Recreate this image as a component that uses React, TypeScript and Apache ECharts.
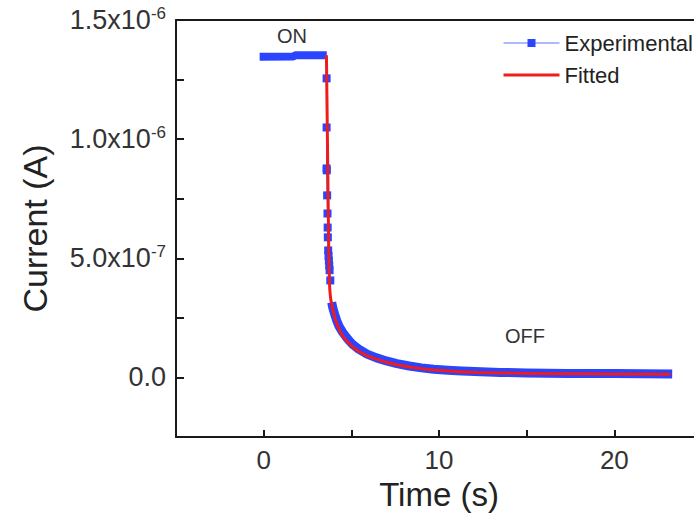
import React, { useEffect, useRef } from "react";
import * as echarts from "echarts";

// ON state (plateau) of the experimental trace
const onTime = [-0.23, 1.7, 1.8, 3.6];
const onCurrent = [1.346e-6, 1.347e-6, 1.352e-6, 1.352e-6];

// Discrete samples during the fast fall
const dropTime = [3.59, 3.59, 3.59, 3.6, 3.62, 3.64, 3.65, 3.66, 3.68, 3.7, 3.72, 3.74, 3.76, 3.8];
const dropCurrent = [1.255e-6, 1.049e-6, 0.877e-6, 0.869e-6, 0.764e-6, 0.688e-6, 0.629e-6, 0.588e-6, 0.533e-6, 0.51e-6, 0.49e-6, 0.47e-6, 0.45e-6, 0.407e-6];

// Slow decay (OFF) of the experimental trace
const decayTime = [3.88, 3.95, 4.05, 4.17, 4.3, 4.5, 4.7, 4.9, 5.1, 5.4, 5.9, 6.4, 7.0, 7.6, 8.3, 9.0, 9.7, 10.5, 11.3, 12.4, 13.5, 15.0, 17.3, 20.0, 23.3];
const decayCurrent = [0.315e-6, 0.29e-6, 0.265e-6, 0.238e-6, 0.215e-6, 0.19e-6, 0.17e-6, 0.152e-6, 0.137e-6, 0.12e-6, 0.098e-6, 0.083e-6, 0.069e-6, 0.058e-6, 0.048e-6, 0.04e-6, 0.034e-6, 0.03e-6, 0.027e-6, 0.024e-6, 0.021e-6, 0.019e-6, 0.017e-6, 0.016e-6, 0.014e-6];

// Fitted curve
const fitTime = [3.58, 3.62, 3.66, 3.7, 3.73, 3.77, 3.82, 3.9, 4.05, 4.2, 4.43, 4.7, 5.09, 5.45, 5.86, 6.4, 7.0, 7.6, 8.3, 9.0, 9.7, 11, 12.2, 13.5, 15.4, 17.3, 20, 23.2];
const fitCurrent = [1.352e-6, 1.1e-6, 0.85e-6, 0.6e-6, 0.45e-6, 0.37e-6, 0.33e-6, 0.3e-6, 0.253e-6, 0.22e-6, 0.183e-6, 0.155e-6, 0.127e-6, 0.108e-6, 0.092e-6, 0.077e-6, 0.064e-6, 0.053e-6, 0.044e-6, 0.037e-6, 0.031e-6, 0.025e-6, 0.021e-6, 0.019e-6, 0.017e-6, 0.015e-6, 0.014e-6, 0.013e-6];

const xTicks = [0, 10, 20];
const yTicks = [0, 5e-7, 1e-6, 1.5e-6];

const BLUE = "#2b45ff";
const RED = "#ee1c1c";
const FONT = "Liberation Sans, Arial, Helvetica, sans-serif";
const TXT = "#222";

const zip = (a: number[], b: number[]) => a.map((v, i) => [v, b[i]]);

function yLabel(v: number): string {
  const k = Math.round(v / 2.5e-7);
  if (k % 2 !== 0 || k < 0) return "";
  const val = k * 2.5e-7;
  if (!yTicks.some((t) => Math.abs(t - val) < 1e-12)) return "";
  if (k === 0) return "{m|0.0}";
  const exp = val >= 1e-6 - 1e-12 ? -6 : -7;
  const man = (val / Math.pow(10, exp)).toFixed(1);
  return `{m|${man}x10}{s|${exp}}`;
}

export default function App() {
  const ref = useRef<HTMLDivElement>(null);
  useEffect(() => {
    document.body.style.margin = "0";
    const chart = echarts.init(ref.current!, null, { renderer: "svg" });
    chart.setOption({
      animation: false,
      backgroundColor: "#fff",
      grid: { left: 176, top: 20, right: -8, bottom: 78, outerBoundsMode: "none", containLabel: false },
      legend: {
        orient: "vertical",
        left: 497,
        top: 27,
        itemWidth: 56,
        itemHeight: 10,
        itemGap: 10,
        textStyle: { fontSize: 22, color: TXT, fontFamily: FONT },
        data: [
          { name: "Experimental", lineStyle: { width: 1, color: "#5a74ff" }, itemStyle: { color: BLUE } },
          { name: "Fitted", lineStyle: { width: 3, color: RED }, itemStyle: { opacity: 0 } },
        ],
      },
      xAxis: [
        {
          type: "value",
          min: -5,
          max: 25,
          interval: 5,
          axisLine: { show: true, onZero: false, lineStyle: { color: "#1a1a1a", width: 2 } },
          axisTick: { show: true, inside: true, length: 7, lineStyle: { color: "#1a1a1a", width: 2 } },
          axisLabel: {
            margin: 10,
            fontSize: 26,
            color: "#333",
            fontFamily: FONT,
            formatter: (v: number) => (xTicks.includes(Math.round(v)) && Math.abs(v - Math.round(v)) < 1e-9 ? String(Math.round(v)) : ""),
          },
          splitLine: { show: false },
          name: "Time (s)",
          nameLocation: "middle",
          nameGap: 38,
          nameTextStyle: { fontSize: 33, color: TXT, fontFamily: FONT },
        },
        {
          type: "value",
          position: "top",
          min: -5,
          max: 25,
          axisLine: { show: true, onZero: false, lineStyle: { color: "#1a1a1a", width: 2 } },
          axisTick: { show: false },
          axisLabel: { show: false },
          splitLine: { show: false },
        },
      ],
      yAxis: [
        {
          type: "value",
          min: -2.5e-7,
          max: 1.5e-6,
          interval: 2.5e-7,
          axisLine: { show: true, onZero: false, lineStyle: { color: "#1a1a1a", width: 2 } },
          axisTick: { show: true, inside: true, length: 8, lineStyle: { color: "#1a1a1a", width: 2 } },
          axisLabel: {
            margin: 10,
            color: "#333",
            fontFamily: FONT,
            formatter: yLabel,
            rich: {
              m: { fontSize: 27, color: "#333", fontFamily: FONT },
              s: { fontSize: 17, color: "#333", fontFamily: FONT, padding: [0, 0, 14, 0] },
            },
          },
          splitLine: { show: false },
          name: "Current (A)",
          nameLocation: "middle",
          nameGap: 124,
          nameTextStyle: { fontSize: 34, color: TXT, fontFamily: FONT },
        },
        {
          type: "value",
          position: "right",
          min: -2.5e-7,
          max: 1.5e-6,
          axisLine: { show: true, onZero: false, lineStyle: { color: "#1a1a1a", width: 2 } },
          axisTick: { show: false },
          axisLabel: { show: false },
          splitLine: { show: false },
        },
      ],
      series: [
        {
          name: "Experimental",
          type: "line",
          data: zip(dropTime, dropCurrent),
          symbol: "rect",
          symbolSize: 8,
          showAllSymbol: true,
          lineStyle: { width: 1, color: BLUE },
          itemStyle: { color: BLUE },
          z: 2,
        },
        {
          name: "Experimental",
          type: "line",
          data: zip(onTime, onCurrent),
          symbol: "none",
          lineStyle: { width: 8, color: BLUE },
          itemStyle: { color: BLUE },
          z: 2,
        },
        {
          name: "Experimental",
          type: "line",
          data: zip(decayTime, decayCurrent),
          symbol: "none",
          lineStyle: { width: 9, color: BLUE, join: "round" },
          itemStyle: { color: BLUE },
          z: 2,
        },
        {
          name: "Fitted",
          type: "line",
          data: zip(fitTime, fitCurrent),
          symbol: "none",
          lineStyle: { width: 3, color: RED, join: "round" },
          itemStyle: { color: RED },
          z: 3,
        },
      ],
      graphic: [
        { type: "text", x: 292, y: 36, style: { text: "ON", fontSize: 20, fill: "#333", fontFamily: FONT, align: "center", verticalAlign: "middle" } },
        { type: "text", x: 525, y: 336, style: { text: "OFF", fontSize: 20, fill: "#333", fontFamily: FONT, align: "center", verticalAlign: "middle" } },
      ],
    });
    return () => chart.dispose();
  }, []);
  return <div ref={ref} style={{ width: 694, height: 515 }} />;
}
